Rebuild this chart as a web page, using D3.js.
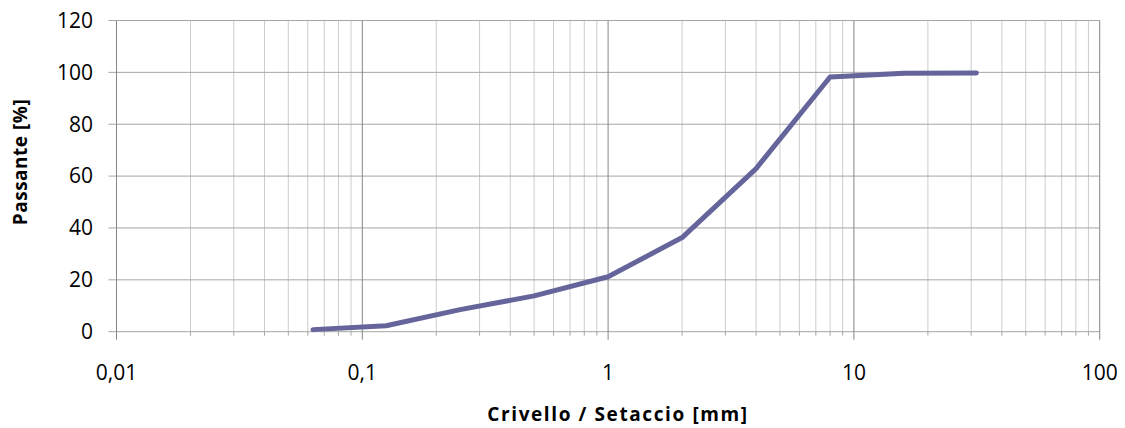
<!DOCTYPE html>
<html>
<head>
<meta charset="utf-8">
<script src="https://cdn.jsdelivr.net/npm/d3@7.9.0/dist/d3.min.js"></script>
<style>
  body { margin: 0; background: #fff; }
  svg text { font-family: "Open Sans", Lato, sans-serif; fill: #000; }
</style>
</head>
<body>
<div id="chart"></div>
<script>
// sieve openings [mm] and passing [%]
const sieves = [0.063, 0.125, 0.25, 0.5, 1, 2, 4, 8, 16, 31.5];
const passing = [0.8, 2.3, 8.5, 13.8, 21.2, 36.3, 62.9, 98.2, 99.7, 99.8];
const xTicks = [0.01, 0.1, 1, 10, 100];
const xTickLabels = ["0,01", "0,1", "1", "10", "100"];
const yTicks = [0, 20, 40, 60, 80, 100, 120];

const width = 1125, height = 428;
const margin = { left: 116.5, right: 25.3, top: 20.5, bottom: 96.3 };

const svg = d3.select("#chart").append("svg")
  .attr("width", width)
  .attr("height", height);

const x = d3.scaleLog()
  .domain([0.01, 100])
  .range([margin.left, width - margin.right]);

const y = d3.scaleLinear()
  .domain([0, 120])
  .range([height - margin.bottom, margin.top]);

// minor vertical grid (2..9 of each decade)
const minor = [];
for (let d = 0.01; d < 100; d *= 10) {
  for (let k = 2; k <= 9; k++) minor.push(d * k);
}

svg.append("g")
  .selectAll("line")
  .data(minor)
  .enter()
  .append("line")
  .attr("x1", d => x(d)).attr("x2", d => x(d))
  .attr("y1", y(120)).attr("y2", y(0))
  .attr("stroke", "#cccccc")
  .attr("stroke-width", 1);

// horizontal grid
svg.append("g")
  .selectAll("line")
  .data(yTicks)
  .enter()
  .append("line")
  .attr("x1", x(0.01) - 8).attr("x2", x(100))
  .attr("y1", d => y(d)).attr("y2", d => y(d))
  .attr("stroke", "#a6a6a6")
  .attr("stroke-width", 1);

// major vertical grid + ticks
svg.append("g")
  .selectAll("line")
  .data(xTicks)
  .enter()
  .append("line")
  .attr("x1", d => x(d)).attr("x2", d => x(d))
  .attr("y1", y(120)).attr("y2", y(0) + 8)
  .attr("stroke", "#868686")
  .attr("stroke-width", 1);

// small minor ticks under the axis
svg.append("g")
  .selectAll("line")
  .data(minor)
  .enter()
  .append("line")
  .attr("x1", d => x(d)).attr("x2", d => x(d))
  .attr("y1", y(0)).attr("y2", y(0) + 4)
  .attr("stroke", "#a6a6a6")
  .attr("stroke-width", 1);

// y tick labels
svg.append("g")
  .selectAll("text")
  .data(yTicks)
  .enter()
  .append("text")
  .attr("x", 93)
  .attr("y", d => y(d))
  .attr("dy", "0.35em")
  .attr("text-anchor", "end")
  .style("font-size", "21px")
  .text(d => d);

// x tick labels
svg.append("g")
  .selectAll("text")
  .data(xTicks)
  .enter()
  .append("text")
  .attr("x", d => x(d))
  .attr("y", 380)
  .attr("text-anchor", "middle")
  .style("font-size", "21px")
  .text((d, i) => xTickLabels[i]);

// curve
const line = d3.line()
  .x(d => x(d[0]))
  .y(d => y(d[1]));

svg.append("path")
  .datum(sieves.map((s, i) => [s, passing[i]]))
  .attr("d", line)
  .attr("fill", "none")
  .attr("stroke", "#65659c")
  .attr("stroke-width", 5)
  .attr("stroke-linejoin", "round")
  .attr("stroke-linecap", "round");

// axis titles
svg.append("text")
  .attr("x", 618)
  .attr("y", 421)
  .attr("text-anchor", "middle")
  .style("font-size", "19px")
  .style("font-weight", "bold")
  .style("letter-spacing", "1.6px")
  .text("Crivello / Setaccio [mm]");

svg.append("text")
  .attr("transform", "translate(27,162) rotate(-90)")
  .attr("text-anchor", "middle")
  .style("font-size", "19px")
  .style("font-weight", "bold")
  .style("letter-spacing", "0.5px")
  .text("Passante [%]");
</script>
</body>
</html>
